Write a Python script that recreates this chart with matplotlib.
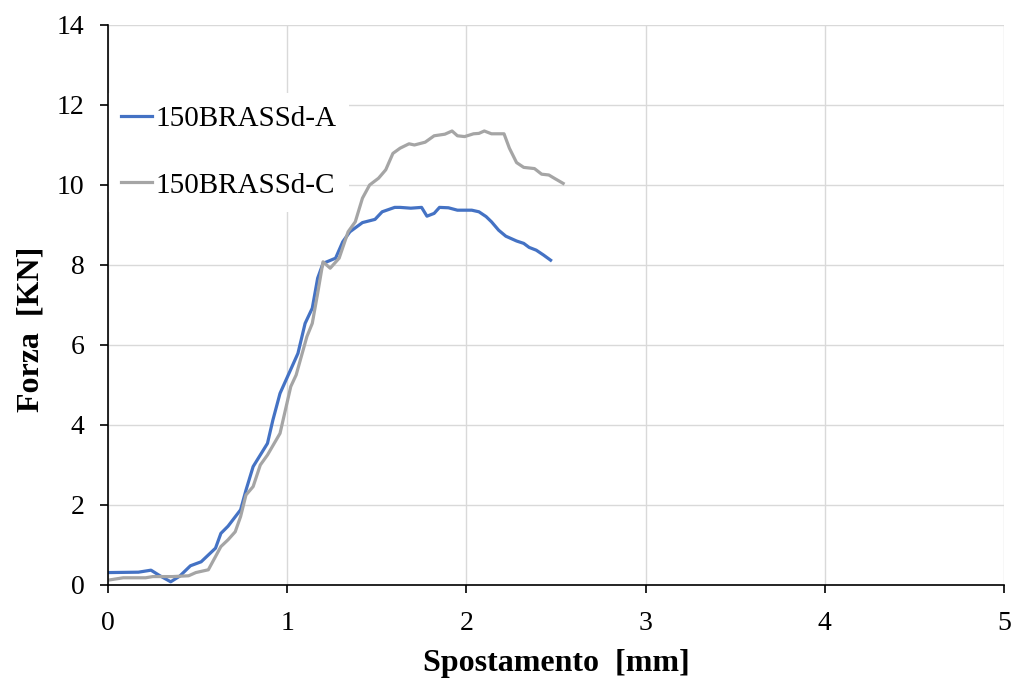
import matplotlib.pyplot as plt

# spostamento [mm] / forza [KN] per i due provini
x_a = [0.00, 0.17, 0.24, 0.29, 0.35, 0.40, 0.46, 0.52, 0.60, 0.63, 0.67, 0.74, 0.77,
       0.81, 0.89, 0.92, 0.96, 1.06, 1.10, 1.14, 1.17, 1.20, 1.27, 1.31, 1.35, 1.42,
       1.49, 1.53, 1.60, 1.63, 1.69, 1.75, 1.78, 1.82, 1.85, 1.90, 1.95, 2.03, 2.07,
       2.11, 2.14, 2.18, 2.22, 2.28, 2.32, 2.35, 2.39, 2.43, 2.47]
f_a = [0.31, 0.32, 0.37, 0.23, 0.08, 0.22, 0.48, 0.58, 0.92, 1.29, 1.47, 1.88, 2.37,
       2.96, 3.54, 4.12, 4.79, 5.79, 6.54, 6.92, 7.67, 8.04, 8.17, 8.58, 8.83, 9.06,
       9.14, 9.33, 9.44, 9.44, 9.42, 9.44, 9.22, 9.29, 9.44, 9.43, 9.37, 9.37, 9.33,
       9.21, 9.08, 8.87, 8.72, 8.60, 8.54, 8.44, 8.37, 8.25, 8.12]

x_c = [0.00, 0.085, 0.21, 0.25, 0.36, 0.45, 0.49, 0.56, 0.60, 0.63, 0.67, 0.71, 0.74,
       0.77, 0.81, 0.85, 0.89, 0.96, 1.02, 1.05, 1.11, 1.14, 1.17, 1.20, 1.24, 1.29,
       1.34, 1.38, 1.42, 1.46, 1.51, 1.55, 1.59, 1.63, 1.68, 1.71, 1.77, 1.82, 1.88,
       1.92, 1.95, 1.99, 2.04, 2.07, 2.10, 2.14, 2.21, 2.24, 2.28, 2.32, 2.38, 2.42,
       2.46, 2.49, 2.54]
f_c = [0.12, 0.18, 0.18, 0.21, 0.21, 0.23, 0.31, 0.38, 0.71, 0.96, 1.13, 1.33, 1.71,
       2.25, 2.46, 3.00, 3.25, 3.79, 4.96, 5.25, 6.21, 6.54, 7.29, 8.08, 7.92, 8.17,
       8.83, 9.08, 9.67, 10.00, 10.17, 10.38, 10.79, 10.92, 11.03, 11.00, 11.07, 11.23,
       11.27, 11.35, 11.23, 11.21, 11.28, 11.29, 11.35, 11.28, 11.28, 10.92, 10.56,
       10.44, 10.41, 10.27, 10.25, 10.17, 10.04]

labels = ['150BRASSd-A', '150BRASSd-C']
colors = ['#4472C4', '#A5A5A5']

plt.rcParams['font.family'] = 'Liberation Serif'

fig = plt.figure(figsize=(10.13, 6.81), dpi=100)
ax = fig.add_axes([0.1066, 0.141, 0.8845, 0.8223])

ax.plot(x_a, f_a, color=colors[0], lw=2.3, label=labels[0])
ax.plot(x_c, f_c, color=colors[1], lw=2.3, label=labels[1])

ax.set_xlim(0, 5)
ax.set_ylim(0, 14)
ax.set_xticks(range(0, 6))
ax.set_yticks(range(0, 15, 2))
ax.grid(True, color='#d9d9d9', lw=1)
ax.set_axisbelow(True)
for s in ['top', 'right']:
    ax.spines[s].set_visible(False)
for s in ['left', 'bottom']:
    ax.spines[s].set_linewidth(1.2)
ax.tick_params(labelsize=20, direction='out', length=6, width=1.2)
ax.tick_params(axis='x', pad=13)
ax.tick_params(axis='y', pad=11)

ax.set_xlabel('Spostamento  [mm]', fontsize=23, fontweight='bold', labelpad=9)
ax.set_ylabel('Forza  [KN]', fontsize=23, fontweight='bold', labelpad=8)
ax.yaxis.label.set_y(0.457)

leg = ax.legend(loc='upper left', bbox_to_anchor=(0.0, 0.879), fontsize=21,
                frameon=True, facecolor='white', edgecolor='none', framealpha=1,
                fancybox=False, handlelength=1.05, handletextpad=0.12,
                labelspacing=1.37, borderpad=0.45, borderaxespad=0)
leg.set_zorder(2.4)  # keep the left spine on top of the legend box

fig.savefig('out.png', dpi=100)
